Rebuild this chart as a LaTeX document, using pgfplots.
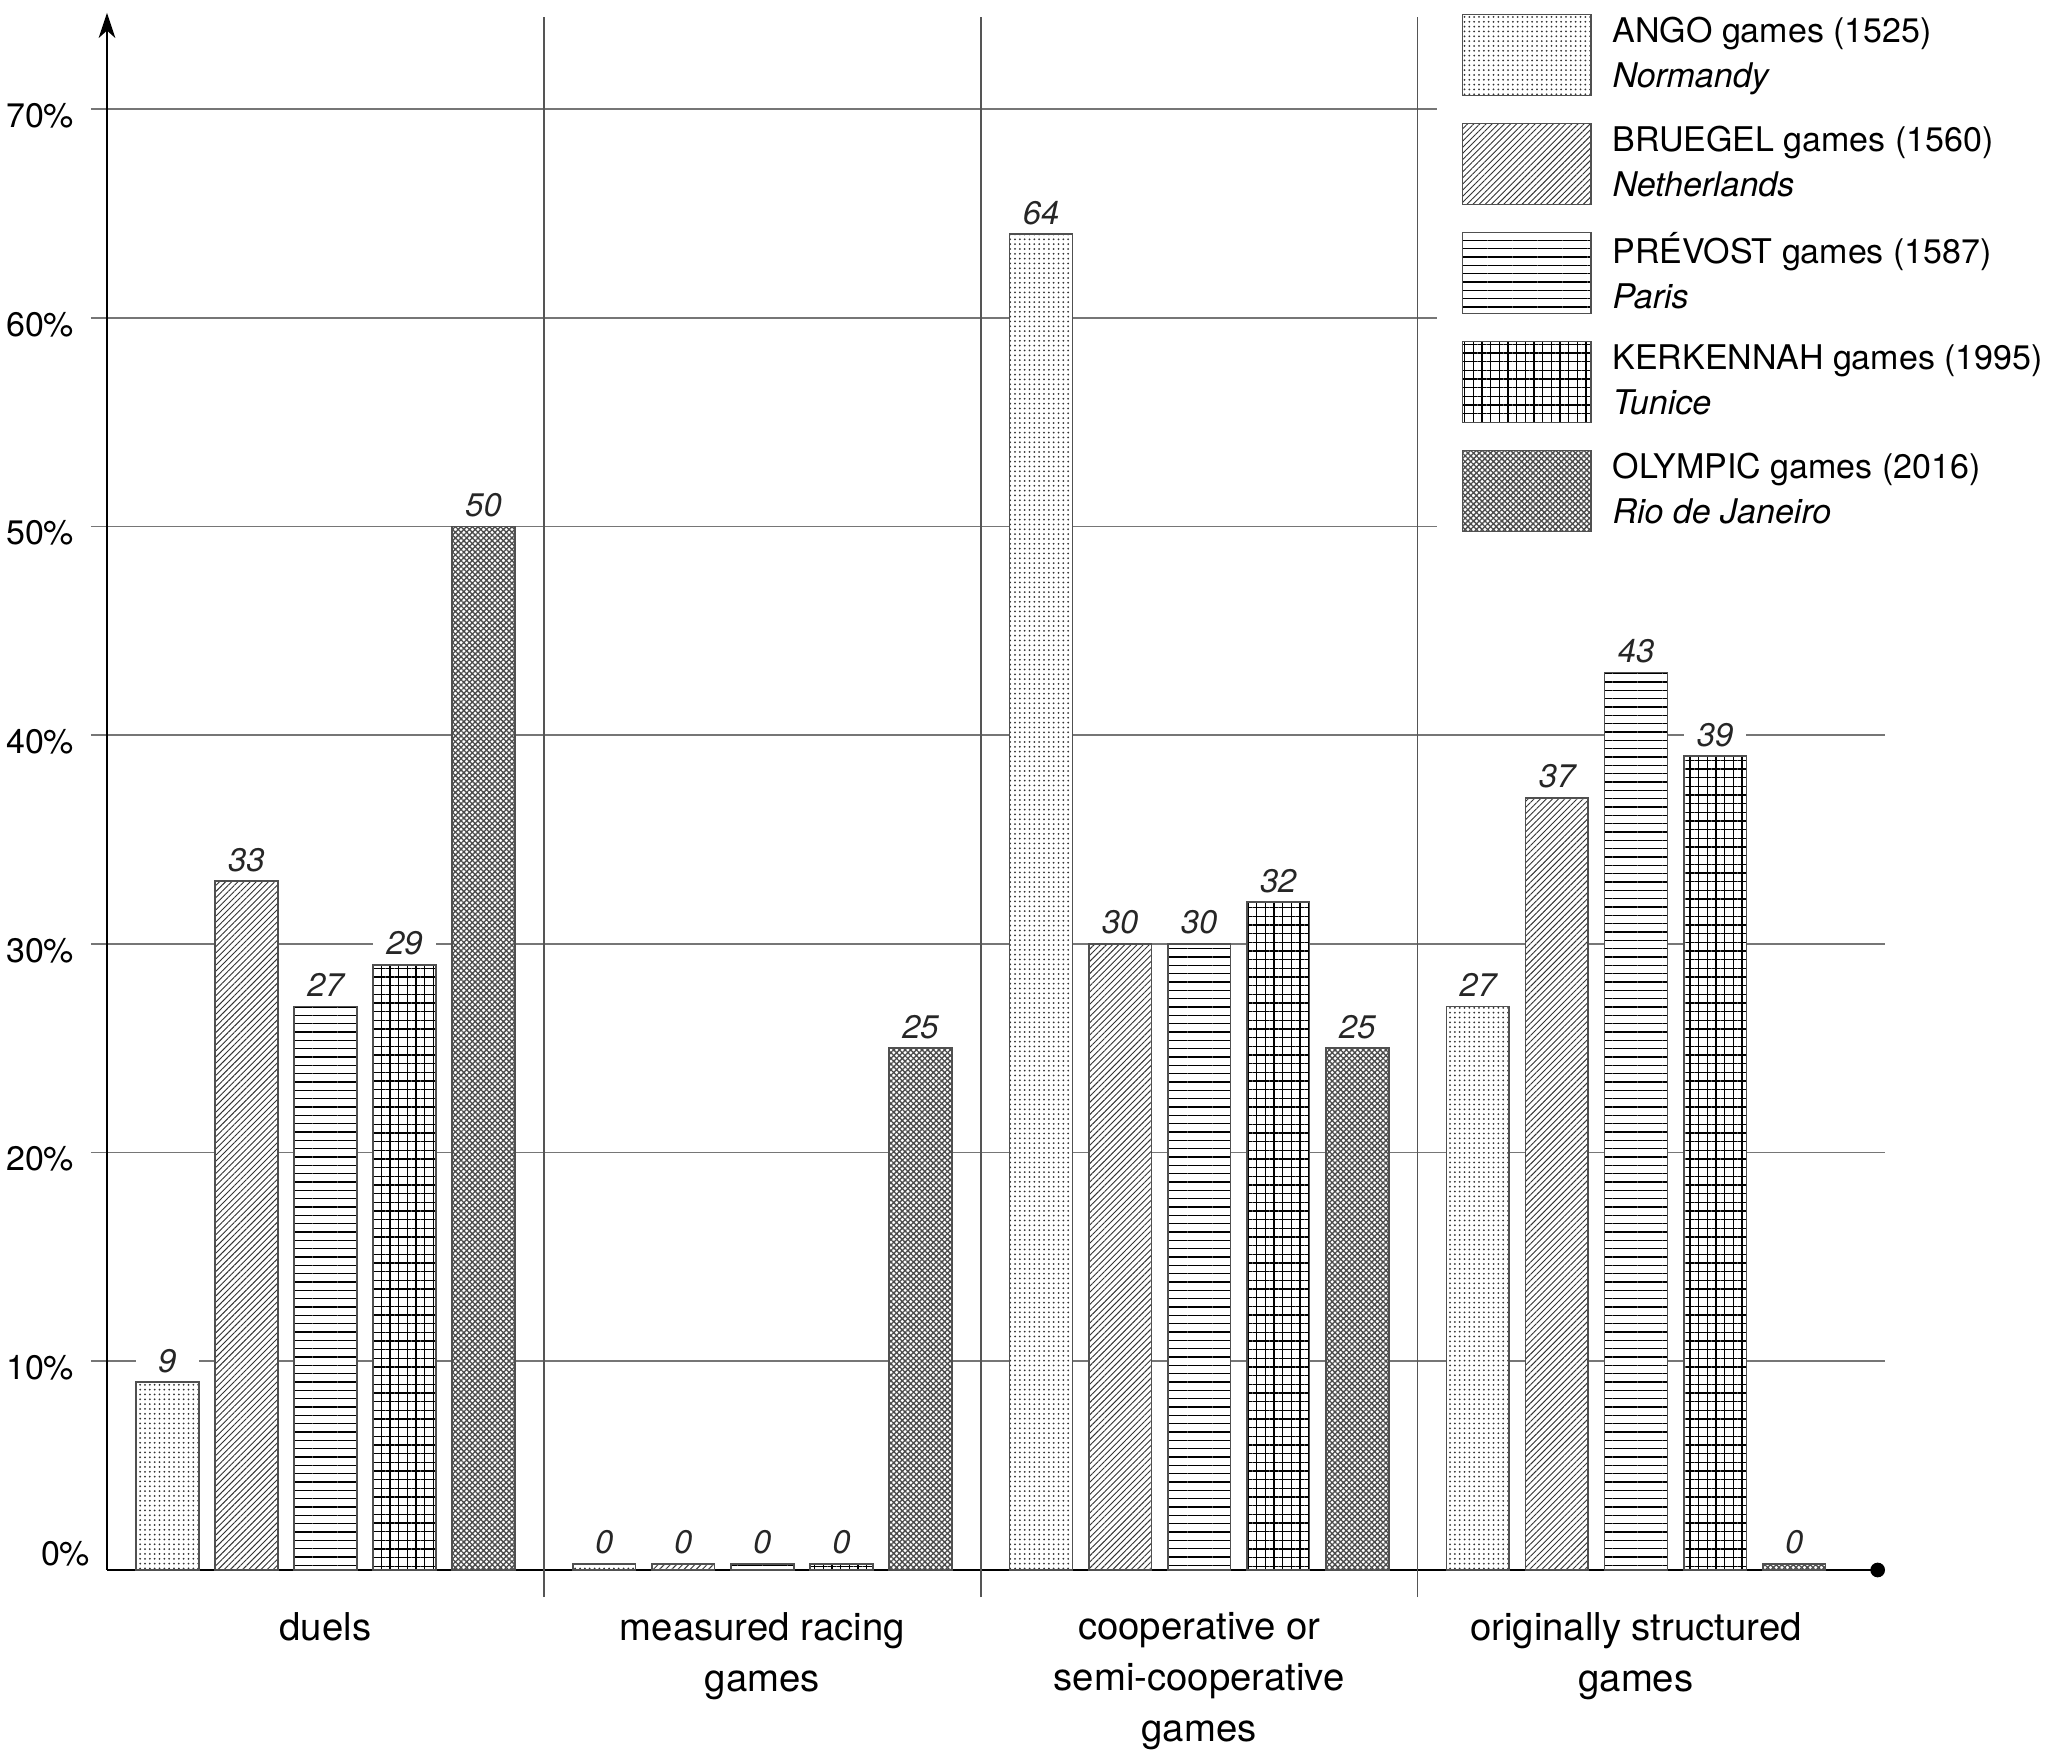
\documentclass[border=0pt]{standalone}
\usepackage{fontspec}
\setmainfont{TeX Gyre Heros}
\usepackage{pgfplots}
\pgfplotsset{compat=1.18}
\usetikzlibrary{patterns.meta,arrows.meta}
\definecolor{gridgray}{HTML}{767676}
\definecolor{sepgray}{HTML}{555555}
\definecolor{bardraw}{HTML}{505050}
\pgfplotsset{
  barbase/.style={draw=bardraw, line width=0.5pt, fill=white,
    legend image code/.code={\draw[##1] (0pt,-12.15pt) rectangle (38.5pt,12.15pt);}},
  angoS/.style={barbase, postaction={pattern={Dots[distance=1.45pt,radius=0.3pt]}, pattern color=black!80}},
  bruegelS/.style={barbase, postaction={pattern={Lines[angle=45,distance=1.3pt,line width=0.28pt]}, pattern color=black!80}},
  prevostS/.style={barbase, postaction={pattern={Lines[angle=0,distance=2.5pt,line width=0.4pt]}, pattern color=black}},
  kerkS/.style={barbase, postaction={pattern={Hatch[angle=0,distance=2.6pt,line width=0.35pt]}, pattern color=black}},
  olympS/.style={barbase, postaction={pattern={Hatch[angle=45,distance=1.2pt,line width=0.4pt]}, pattern color=black!70}},
}
\begin{document}
\begin{tikzpicture}
\begin{axis}[
  scale only axis, width=533.4pt, height=467.1pt,
  xmin=-0.5, xmax=3.57, ymin=0, ymax=74.6,
  axis x line=bottom, axis y line=left,
  x axis line style={line width=0.8pt, -{Circle[length=4.4pt]}},
  y axis line style={line width=0.6pt, -{Stealth[length=7.5pt,width=5pt,inset=2.2pt]}},
  ybar, bar width=0.1437,
  xtick={0,1,2,3},
  xticklabels={duels, measured racing\\games, cooperative or\\semi-cooperative\\games, originally structured\\games},
  xticklabel style={align=center, font=\fontsize{11.5}{15.3}\selectfont, yshift=-4.3pt},
  x tick style={draw=none},
  ytick={10,20,...,70},
  yticklabels={10\%,20\%,30\%,40\%,50\%,60\%,70\%},
  yticklabel style={font=\fontsize{10.2}{12}\selectfont, yshift=-2pt, xshift=-1.5pt},
  extra y ticks={0}, extra y tick labels={0\%},
  extra y tick style={major tick length=0pt, grid=none, yticklabel style={yshift=7pt}},
  ymajorgrids, major grid style={gridgray, line width=0.5pt},
  y tick style={gridgray, line width=0.5pt}, major tick length=4.8pt, tick align=outside,
  clip=false,
  nodes near coords, point meta=explicit symbolic,
  every node near coord/.append style={font=\itshape\fontsize{9.8}{11}\selectfont, fill=white,
    inner xsep=0pt, inner ysep=1pt, minimum width=18.85pt, text=black!85, yshift=1.6pt},
  legend cell align=left,
  legend style={at={(axis description cs:0.7474,1.0)}, anchor=north west, draw=none, fill=white,
    inner xsep=7.5pt, inner ysep=0pt, row sep=7.9pt, column sep=0pt,
    cells={align=left},
    nodes={inner xsep=6.3pt, inner ysep=0pt, font=\fontsize{10.2}{13.4}\selectfont}},
]
\addplot[angoS, bar shift=-0.362] table[x=x,y=y,meta=v]{
x y v
0 9 9
1 0.3 0
2 64 64
3 27 27
};
\addlegendentry{ANGO games (1525)\\\textit{Normandy}}
\addplot[bruegelS, bar shift=-0.181] table[x=x,y=y,meta=v]{
x y v
0 33 33
1 0.3 0
2 30 30
3 37 37
};
\addlegendentry{BRUEGEL games (1560)\\\textit{Netherlands}}
\addplot[prevostS, bar shift=0] table[x=x,y=y,meta=v]{
x y v
0 27 27
1 0.3 0
2 30 30
3 43 43
};
\addlegendentry{PRÉVOST games (1587)\\\textit{Paris}}
\addplot[kerkS, bar shift=0.181] table[x=x,y=y,meta=v]{
x y v
0 29 29
1 0.3 0
2 32 32
3 39 39
};
\addlegendentry{KERKENNAH games (1995)\\\textit{Tunice}}
\addplot[olympS, bar shift=0.362] table[x=x,y=y,meta=v]{
x y v
0 50 50
1 25 25
2 25 25
3 0.3 0
};
\addlegendentry{OLYMPIC games (2016)\\\textit{Rio de Janeiro}}
\draw[sepgray, line width=0.5pt] (axis cs:0.5,-1.3) -- (axis cs:0.5,74.4);
\draw[sepgray, line width=0.5pt] (axis cs:1.5,-1.3) -- (axis cs:1.5,74.4);
\draw[sepgray, line width=0.5pt] (axis cs:2.5,-1.3) -- (axis cs:2.5,74.4);
\end{axis}
\pgfresetboundingbox
\path[use as bounding box] (-32.1pt,-56.1pt) rectangle (583.5pt,471pt);
\end{tikzpicture}
\end{document}
